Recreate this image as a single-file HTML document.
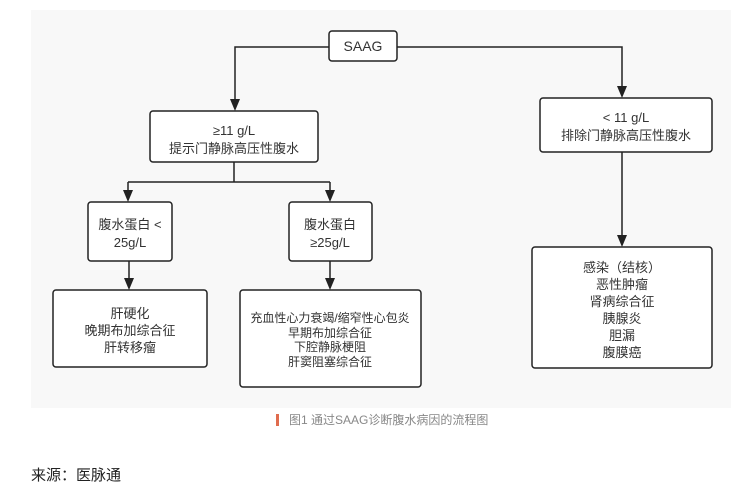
<!DOCTYPE html>
<html><head><meta charset="utf-8"><style>
html,body{margin:0;padding:0;background:#fff;width:743px;height:489px;overflow:hidden}
svg{display:block}
text{font-family:"Liberation Sans","Noto Sans CJK SC",sans-serif;fill:#333}
</style></head><body>
<svg width="743" height="489" viewBox="0 0 743 489">
<rect x="31" y="10" width="700" height="398" fill="#f8f8f8"/>
<g fill="none" stroke="#222" stroke-width="1.5">
<path d="M329,47 H235 V100"/>
<path d="M397,47 H622 V87"/>
<path d="M234,162 V182 M128,182 H330"/>
<path d="M128,182 V192"/>
<path d="M330,182 V192"/>
<path d="M129,261 V279"/>
<path d="M330,261 V279"/>
<path d="M622,152 V236"/>
</g>
<g fill="#222">
<path d="M230,99 L240,99 L235,111 Z"/>
<path d="M617,86 L627,86 L622,98 Z"/>
<path d="M123,190 L133,190 L128,202 Z"/>
<path d="M325,190 L335,190 L330,202 Z"/>
<path d="M124,278 L134,278 L129,290 Z"/>
<path d="M325,278 L335,278 L330,290 Z"/>
<path d="M617,235 L627,235 L622,247 Z"/>
</g>
<g fill="#fff" stroke="#222" stroke-width="1.5">
<rect x="329" y="31" width="68" height="30" rx="3"/>
<rect x="150" y="111" width="168" height="51" rx="3"/>
<rect x="540" y="98" width="172" height="54" rx="3"/>
<rect x="88" y="202" width="84" height="59" rx="3"/>
<rect x="289" y="202" width="83" height="59" rx="3"/>
<rect x="53" y="290" width="154" height="77" rx="3"/>
<rect x="240" y="290" width="181" height="97" rx="3"/>
<rect x="532" y="247" width="180" height="121" rx="3"/>
</g>
<g text-anchor="middle" font-size="13">
<text x="363" y="51" font-size="14">SAAG</text>
<text x="234" y="135">≥11 g/L</text>
<text x="234" y="153">提示门静脉高压性腹水</text>
<text x="626" y="122">&lt; 11 g/L</text>
<text x="626" y="140">排除门静脉高压性腹水</text>
<text x="130" y="229">腹水蛋白 &lt;</text>
<text x="130" y="247">25g/L</text>
<text x="330" y="229">腹水蛋白</text>
<text x="330" y="247">≥25g/L</text>
<text x="130" y="318">肝硬化</text>
<text x="130" y="335">晚期布加综合征</text>
<text x="130" y="352">肝转移瘤</text>
<g font-size="12"><text x="330" y="322">充血性心力衰竭/缩窄性心包炎</text>
<text x="330" y="337">早期布加综合征</text>
<text x="330" y="351">下腔静脉梗阻</text>
<text x="330" y="366">肝窦阻塞综合征</text></g>
<text x="622" y="272">感染（结核）</text>
<text x="622" y="289">恶性肿瘤</text>
<text x="622" y="306">肾病综合征</text>
<text x="622" y="323">胰腺炎</text>
<text x="622" y="340">胆漏</text>
<text x="622" y="357">腹膜癌</text>
</g>
<rect x="276" y="414" width="3" height="12" fill="#e06c4e"/>
<text x="289" y="424" font-size="12" style="fill:#888">图1 通过SAAG诊断腹水病因的流程图</text>
<text x="31" y="480" font-size="15" style="fill:#222">来源：医脉通</text>
</svg>
</body></html>
